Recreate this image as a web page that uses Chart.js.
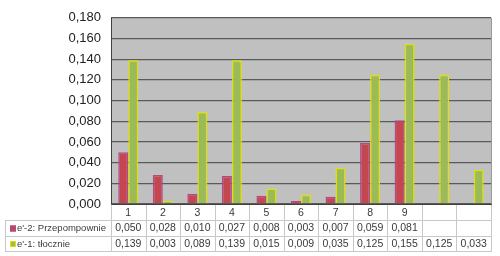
<!DOCTYPE html>
<html><head><meta charset="utf-8">
<script src="https://cdn.jsdelivr.net/npm/chart.js@4"></script>
<style>html,body{margin:0;padding:0;background:#fff}#wrap{width:500px;height:256px}</style>
</head><body><div id="wrap"><canvas id="c" width="500" height="256"></canvas></div>
<script>
const categories = ["1","2","3","4","5","6","7","8","9","",""];
const seriesNames = ["e'-2: Przepompownie", "e'-1: tłocznie"];
const przepompownie = [0.050,0.028,0.010,0.027,0.008,0.003,0.007,0.059,0.081,null,null];
const tlocznie = [0.139,0.003,0.089,0.139,0.015,0.009,0.035,0.125,0.155,0.125,0.033];
const yTicks = {min:0, max:0.18, step:0.02};

const fmt = v => (v===null||v===undefined) ? '' : v.toFixed(3).replace('.', ',');
const fills = ['#C4474F', '#9BBB59'];
const borders = ['#B04A8C', '#E2E000'];

const bgPlugin = {
  id:'bg',
  beforeDraw(chart){
    const {ctx, chartArea:a} = chart;
    ctx.save(); ctx.fillStyle = '#C0C0C0';
    ctx.fillRect(a.left, a.top, a.right-a.left, a.bottom-a.top);
    ctx.restore();
  }
};
const tablePlugin = {
  id:'table',
  afterDraw(chart){
    const {ctx, chartArea:a} = chart;
    const x = chart.scales.x;
    const n = categories.length;
    const w = (a.right - a.left)/n;
    const top = a.bottom, r1 = a.bottom + 16, r2 = a.bottom + 32, bot = a.bottom + 47;
    const leftX = 5;
    ctx.save();
    ctx.strokeStyle = '#9a9a9a'; ctx.lineWidth = 1;
    ctx.beginPath(); ctx.moveTo(a.right+0.5, a.top); ctx.lineTo(a.right+0.5, a.bottom); ctx.stroke();
    ctx.strokeStyle = '#404040';
    ctx.beginPath(); ctx.moveTo(a.left+0.5, a.top); ctx.lineTo(a.left+0.5, a.bottom+0.5); ctx.lineTo(a.right+1, a.bottom+0.5); ctx.stroke();
    ctx.strokeStyle = '#C8C8C8';
    ctx.beginPath();
    [r1, r2, bot].forEach(y => { ctx.moveTo(leftX, y+0.5); ctx.lineTo(a.right+1, y+0.5); });
    ctx.moveTo(leftX+0.5, r1); ctx.lineTo(leftX+0.5, bot+0.5);
    for (let i=0;i<=n;i++){
      const xx = Math.round(a.left + i*w) + 0.5;
      ctx.moveTo(xx, top+1); ctx.lineTo(xx, bot+0.5);
    }
    ctx.stroke();
    ctx.fillStyle = '#3a3a3a';
    ctx.font = '10.5px "Liberation Sans", Arial, sans-serif';
    ctx.textAlign = 'center'; ctx.textBaseline = 'middle';
    const rows = [przepompownie, tlocznie];
    categories.forEach((c,i) => {
      const cx = x.getPixelForValue(i);
      ctx.fillText(c, cx, top + 9);
      ctx.fillText(fmt(rows[0][i]), cx, r1 + 8.5);
      ctx.fillText(fmt(rows[1][i]), cx, r2 + 8);
    });
    ctx.textAlign = 'left';
    ctx.font = '9.5px "Liberation Sans", Arial, sans-serif';
    [[r1+8.5,0],[r2+8,1]].forEach(([yy,k]) => {
      ctx.fillStyle = fills[k]; ctx.fillRect(10, yy-3, 6, 6);
      ctx.strokeStyle = borders[k]; ctx.lineWidth = 1; ctx.strokeRect(10.5, yy-2.5, 5, 5);
      ctx.fillStyle = '#3a3a3a';
      ctx.fillText(seriesNames[k], 17, yy);
    });
    ctx.restore();
  }
};

new Chart(document.getElementById('c'), {
  type:'bar',
  data:{
    labels: categories,
    datasets:[
      {label:seriesNames[0], data:przepompownie, backgroundColor:fills[0], borderColor:borders[0], borderWidth:1.5},
      {label:seriesNames[1], data:tlocznie, backgroundColor:fills[1], borderColor:borders[1], borderWidth:1.5}
    ]
  },
  options:{
    responsive:false, animation:false, devicePixelRatio:1,
    layout:{padding:{left:0, right:9, top:14, bottom:52}},
    plugins:{legend:{display:false}, tooltip:{enabled:false}},
    datasets:{bar:{categoryPercentage:0.58, barPercentage:1.0}},
    scales:{
      x:{display:false, grid:{display:false}},
      y:{
        min:yTicks.min, max:yTicks.max,
        border:{display:false},
        grid:{color:'#5a5a5a', lineWidth:1.3, drawTicks:false},
        ticks:{stepSize:yTicks.step, padding:10, color:'#222',
          font:{family:'"Liberation Sans", Arial, sans-serif', size:13},
          callback:(v)=>fmt(v)},
        afterFit(s){ s.width = 111; }
      }
    }
  },
  plugins:[bgPlugin, tablePlugin]
});
</script></body></html>
